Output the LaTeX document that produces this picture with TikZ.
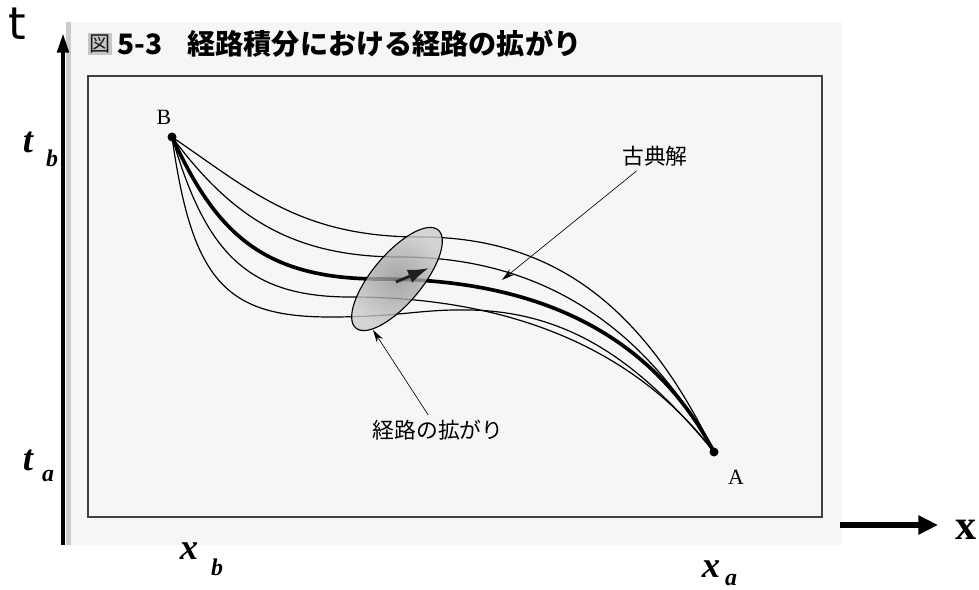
\documentclass[tikz,border=0pt]{standalone}
\usepackage{fontspec}
\setmainfont{Liberation Serif}
\newfontfamily\jp{Noto Sans CJK JP}
\newfontfamily\djv{DejaVu Sans}
\usetikzlibrary{arrows.meta}
\tikzset{
  fs/.style={font=\fontsize{#1}{#1}\selectfont},
  thinpath/.style={line width=0.85pt, black},
  classic/.style={line width=2.6pt, black},
  note/.style={line width=0.45pt, -{Stealth[length=9pt,width=5pt]}},
  axislbl/.style={inner sep=0pt, font=\fontsize{26pt}{26pt}\selectfont\bfseries\itshape},
  sublbl/.style={inner sep=0pt, font=\fontsize{17pt}{17pt}\selectfont\bfseries\itshape},
}
\begin{document}
\begin{tikzpicture}[x=0.025cm,y=-0.025cm]
\useasboundingbox (0,0) rectangle (979,590);
% scanned page
\fill[gray!7] (68,22) rectangle (842,545);
\fill[gray!40] (66,22) rectangle (71,545);
\draw[gray!50!black, line width=0.9pt] (88,76) rectangle (822,517);
% title
\node[fill=gray!45, inner sep=1pt, text=gray!20!black, font=\jp\fontsize{15pt}{15pt}\selectfont] (fig) at (100,44) {図};
\node[anchor=west, inner sep=0pt, font=\jp\bfseries\fontsize{20pt}{20pt}\selectfont] (title) at (117,44) {5-3\hspace{0.9em}経路積分における経路の拡がり};
% end points
\coordinate (B) at (172,137);
\coordinate (A) at (714,452);
% paths
\draw[thinpath] (B) .. controls (250,190) and (300,237) .. (420,237) .. controls (565,237) and (650,320) .. (A);
\draw[thinpath] (B) .. controls (230,215) and (290,257) .. (400,257) .. controls (550,257) and (650,335) .. (A);
\draw[thinpath] (B) .. controls (205,250) and (245,297) .. (350,297) .. controls (520,297) and (640,355) .. (A);
\draw[thinpath] (B) .. controls (192,280) and (225,317) .. (330,317) .. controls (400,317) and (420,309) .. (470,310) .. controls (570,312) and (640,362) .. (A);
\draw[classic] (B) .. controls (215,230) and (260,279) .. (380,279) .. controls (560,279) and (660,350) .. (A);
% spread ellipse
\coordinate (E) at (397,279);
\shade[inner color=gray!85, outer color=gray!40, opacity=0.8, rotate around={50:(E)}] (E) ellipse [x radius=1.6cm, y radius=0.62cm];
\draw[line width=0.8pt, rotate around={50:(E)}] (E) ellipse [x radius=1.6cm, y radius=0.62cm];
\coordinate (m1) at (396,282);
\coordinate (m2) at (429,268);
\draw[line width=2pt, gray!25!black, -{Latex[length=15pt,width=10pt]}] (m1) -- (m2);
% dots and labels
\fill (B) circle[radius=4.5];
\fill (A) circle[radius=4.5];
\node[fs=15.5pt] (lB) at (164,117) {B};
\node[fs=15.5pt] (lA) at (736,477) {A};
% annotations
\node[font=\jp\fontsize{15.5pt}{15.5pt}\selectfont] (k) at (655,156) {古典解};
\coordinate (kt) at (502,280);
\draw[note] (k) -- (kt);
\node[font=\jp\fontsize{15.5pt}{15.5pt}\selectfont] (s) at (438,430) {経路の拡がり};
\coordinate (st) at (373,330);
\draw[note] (s) -- (st);
% axes
\coordinate (y0) at (63,545);
\coordinate (y1) at (63,33);
\draw[line width=3pt, -{Triangle[length=14pt,width=8pt]}] (y0) -- (y1);
\coordinate (x0) at (840,525);
\coordinate (x1) at (938,525);
\draw[line width=4.5pt, -{Triangle[length=14pt,width=13pt]}] (x0) -- (x1);
\node[font=\djv\fontsize{32pt}{32pt}\selectfont, inner sep=0pt] (tl) at (17,24) {t};
\node[font=\bfseries\fontsize{30pt}{30pt}\selectfont, inner sep=0pt] (xl) at (966,530) {x};
% tick labels
\node[axislbl] (tb) at (28,142) {t};
\node[sublbl] (tbs) at (52,158) {b};
\node[axislbl] (ta) at (28,460) {t};
\node[sublbl] (tas) at (48,476) {a};
\node[axislbl] (xb) at (189,551) {x};
\node[sublbl] (xbs) at (217,567) {b};
\node[axislbl] (xa) at (711,569) {x};
\node[sublbl] (xas) at (731,580) {a};
\end{tikzpicture}
\end{document}
